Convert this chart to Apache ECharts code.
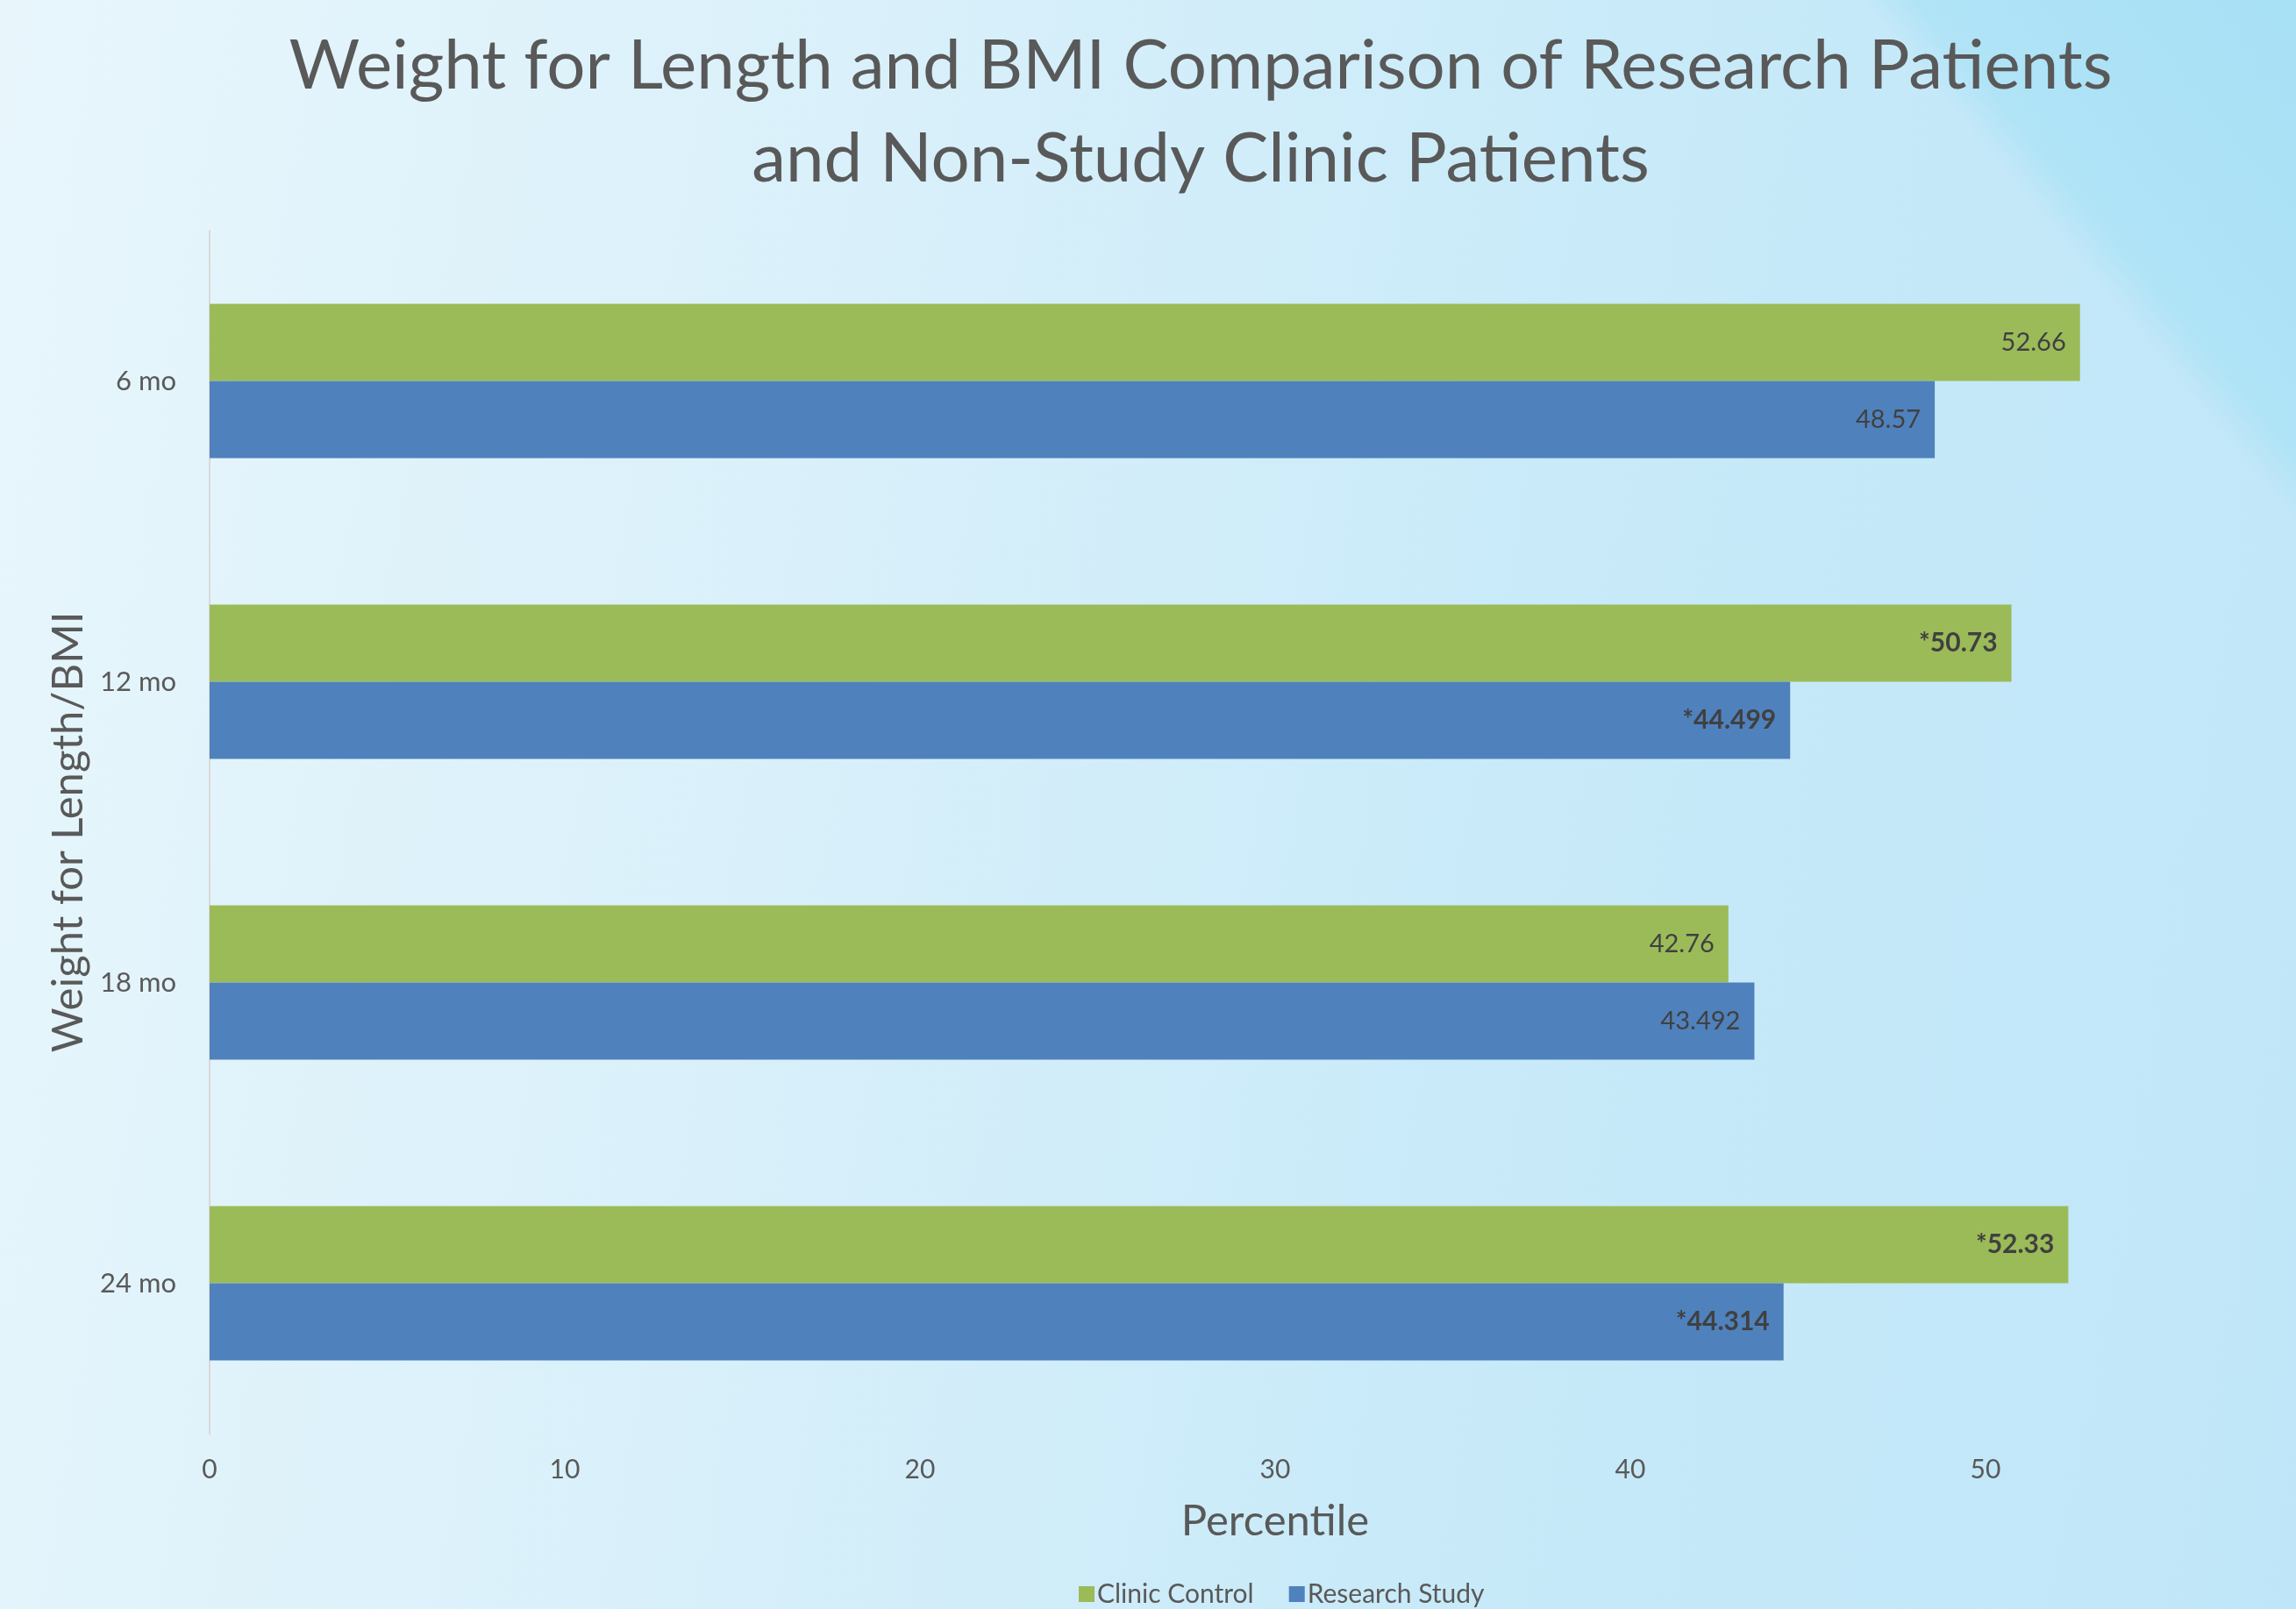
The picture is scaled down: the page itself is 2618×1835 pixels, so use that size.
<!DOCTYPE html>
<html>
<head>
<meta charset="utf-8">
<title>Weight for Length and BMI Comparison</title>
<script src="https://cdn.jsdelivr.net/npm/echarts@6/dist/echarts.min.js"></script>
<style>
  html, body { margin: 0; padding: 0; }
  #chart {
    width: 2618px;
    height: 1835px;
    /* pale blue slide background with a darker band in the top right */
    background:
      linear-gradient(50deg, rgba(171,226,246,0) 88%, rgba(171,226,246,0.8) 89.6%, rgba(168,224,245,1) 100%),
      linear-gradient(100deg, #e8f6fc 0%, #d9f0fa 35%, #c8eaf9 65%, #bfe6f8 100%);
  }
</style>
</head>
<body>
<div id="chart"></div>
<script>
// 数据
const categories = ['6 mo', '12 mo', '18 mo', '24 mo'];
const clinicControl = [52.66, 50.73, 42.76, 52.33];
const researchStudy = [48.57, 44.499, 43.492, 44.314];
// 带星号（加粗）的标签
const clinicStarred = [false, true, false, true];
const researchStarred = [false, true, false, true];

const chart = echarts.init(document.getElementById('chart'));

// 数据标签：星号的用粗体
function labelFor(starred) {
  return {
    show: true,
    position: 'insideRight',
    distance: 16,
    formatter: p => starred[p.dataIndex] ? '{b|*' + p.value + '}' : '{n|' + p.value + '}',
    rich: {
      n: { fontFamily: 'Lato', fontSize: 29, color: '#404040' },
      b: { fontFamily: 'Lato', fontSize: 30, fontWeight: 'bold', color: '#404040' }
    }
  };
}

chart.setOption({
  backgroundColor: 'transparent',
  animation: false,
  title: {
    text: 'Weight for Length and BMI Comparison of Research Patients\nand Non-Study Clinic Patients',
    left: 1364,
    top: 18,
    textAlign: 'center',
    textStyle: {
      fontFamily: 'Lato',
      fontWeight: 'normal',
      fontSize: 78,
      lineHeight: 106,
      color: '#595959'
    }
  },
  legend: {
    data: ['Clinic Control', 'Research Study'],
    left: 1225,
    top: 1798,
    itemWidth: 18,
    itemHeight: 18,
    itemGap: 40,
    icon: 'rect',
    textStyle: { fontFamily: 'Lato', fontSize: 30, color: '#595959', padding: [0, 0, 0, -2] }
  },
  grid: {
    left: 239,
    top: 263,
    width: 2430,
    bottom: 200,
    outerBoundsMode: 'none'
  },
  xAxis: {
    type: 'value',
    min: 0,
    max: 60,
    interval: 10,
    name: 'Percentile',
    nameLocation: 'middle',
    nameGap: 76,
    nameTextStyle: { fontFamily: 'Lato', fontSize: 49, color: '#595959' },
    axisLine: { show: false },
    axisTick: { show: false },
    splitLine: { show: false },
    axisLabel: { fontFamily: 'Lato', fontSize: 30, color: '#595959', margin: 26, showMaxLabel: false }
  },
  yAxis: {
    type: 'category',
    data: categories,
    inverse: true,
    name: 'Weight for Length/BMI',
    nameLocation: 'middle',
    nameGap: 136,
    nameRotate: 90,
    nameTextStyle: { fontFamily: 'Lato', fontSize: 49, color: '#595959' },
    axisLine: { show: true, lineStyle: { color: '#d9d9d9', width: 2 } },
    axisTick: { show: false },
    axisLabel: { fontFamily: 'Lato', fontSize: 31, color: '#595959', margin: 38 }
  },
  series: [
    {
      name: 'Clinic Control',
      type: 'bar',
      data: clinicControl,
      barWidth: 88,
      barGap: '0%',
      itemStyle: { color: '#9bbb59' },
      label: labelFor(clinicStarred)
    },
    {
      name: 'Research Study',
      type: 'bar',
      data: researchStudy,
      barWidth: 88,
      barGap: '0%',
      itemStyle: { color: '#4f81bd' },
      label: labelFor(researchStarred)
    }
  ]
});
</script>
</body>
</html>
